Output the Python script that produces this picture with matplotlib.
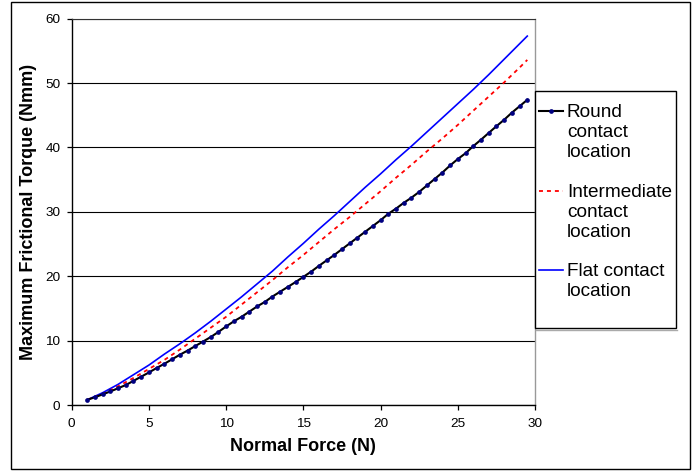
import matplotlib
matplotlib.use('Agg')
import matplotlib.pyplot as plt
from matplotlib.lines import Line2D
from matplotlib.patches import Rectangle

plt.rcParams['font.family'] = ['Liberation Sans', 'DejaVu Sans']

# ---------------- data ----------------
force_round = [1.0, 1.5, 2.0, 2.5, 3.0, 3.5, 4.0, 4.5, 5.0, 5.5,
               6.0, 6.5, 7.0, 7.5, 8.0, 8.5, 9.0, 9.5, 10.0, 10.5,
               11.0, 11.5, 12.0, 12.5, 13.0, 13.5, 14.0, 14.5, 15.0, 15.5,
               16.0, 16.5, 17.0, 17.5, 18.0, 18.5, 19.0, 19.5, 20.0, 20.5,
               21.0, 21.5, 22.0, 22.5, 23.0, 23.5, 24.0, 24.5, 25.0, 25.5,
               26.0, 26.5, 27.0, 27.5, 28.0, 28.5, 29.0, 29.5]
torque_round = [0.8, 1.2, 1.65, 2.1, 2.6, 3.1, 3.75, 4.4, 5.05, 5.75,
                6.4, 7.1, 7.8, 8.45, 9.15, 9.85, 10.55, 11.35, 12.2, 13.0,
                13.7, 14.5, 15.3, 16.0, 16.85, 17.6, 18.35, 19.1, 19.9, 20.7,
                21.6, 22.45, 23.3, 24.2, 25.1, 26.0, 26.9, 27.8, 28.7, 29.7,
                30.5, 31.4, 32.2, 33.1, 34.1, 35.1, 36.1, 37.2, 38.2, 39.1,
                40.2, 41.2, 42.25, 43.3, 44.3, 45.4, 46.4, 47.4]

force_other = [1, 2, 3, 4, 5, 6, 7, 8, 9, 10, 11, 12, 13, 14, 15,
               16, 17, 18, 19, 20, 21, 22, 23, 24, 25, 26, 27, 28, 29, 29.5]
torque_intermediate = [0.8, 1.7, 2.9, 4.2, 5.6, 7.0, 8.6, 10.3, 12.0, 13.7,
                       15.6, 17.5, 19.4, 21.4, 23.3, 25.3, 27.3, 29.2, 31.2, 33.2,
                       35.3, 37.3, 39.4, 41.4, 43.5, 45.7, 47.9, 50.1, 52.4, 53.6]
torque_flat = [0.8, 1.9, 3.2, 4.7, 6.2, 7.9, 9.5, 11.2, 13.0, 14.9,
               16.8, 18.8, 20.8, 23.0, 25.1, 27.3, 29.4, 31.6, 33.8, 35.9,
               38.1, 40.2, 42.4, 44.6, 46.8, 49.0, 51.3, 53.7, 56.1, 57.3]

legend_labels = [["Round", "contact", "location"],
                 ["Intermediate", "contact", "location"],
                 ["Flat contact", "location"]]

x_ticks = [0, 5, 10, 15, 20, 25, 30]
y_ticks = [0, 10, 20, 30, 40, 50, 60]
x_label = "Normal Force (N)"
y_label = "Maximum Frictional Torque (Nmm)"

# ---------------- figure ----------------
W, H = 697, 472
fig = plt.figure(figsize=(W / 100, H / 100), dpi=100)


def fx(x):
    return x / W


def fy(y):
    return 1 - y / H


# outer chart frame
fig.patches.append(Rectangle((fx(10.5), fy(469)), fx(690) - fx(10.5), fy(1.5) - fy(469),
                             transform=fig.transFigure, fill=False,
                             edgecolor='black', linewidth=1.0))

ax = fig.add_axes([fx(71.7), fy(405), (535 - 71.7) / W, (405 - 18.7) / H])

ax.plot(force_flat := force_other, torque_flat, color='#0000FF', lw=1.2, zorder=3)
ax.plot(force_other, torque_intermediate, color='#FF0000', lw=1.3,
        dashes=(2.2, 2.2), zorder=3)
ax.plot(force_round, torque_round, color='black', lw=1.5, marker='o',
        markersize=3.4, markerfacecolor='#000080', markeredgecolor='#000080',
        markeredgewidth=0, zorder=4)

ax.set_xlim(0, 30)
ax.set_ylim(0, 60)
ax.set_xticks(x_ticks)
ax.set_yticks(y_ticks)
ax.yaxis.grid(True, color='black', lw=0.8)
ax.set_axisbelow(True)

for s in ['left', 'bottom']:
    ax.spines[s].set_color('black')
    ax.spines[s].set_linewidth(1.0)
ax.spines['top'].set_color('#333333')
ax.spines['top'].set_linewidth(0.8)
ax.spines['right'].set_color('#999999')
ax.spines['right'].set_linewidth(1.0)

ax.tick_params(axis='both', direction='out', length=3.6, width=0.9,
               labelsize=9.7, colors='black')
ax.tick_params(axis='x', pad=5.5)
ax.tick_params(axis='y', pad=4.5)

ax.set_xlabel(x_label, fontsize=13, fontweight='bold', labelpad=6)
ax.set_ylabel(y_label, fontsize=13, fontweight='bold', labelpad=6)

# ---------------- legend (drawn manually to align handles with first line) ----------------
fig.patches.append(Rectangle((fx(535), fy(328)), fx(676) - fx(535), fy(91) - fy(328),
                             transform=fig.transFigure, facecolor='white',
                             edgecolor='black', linewidth=1.0, zorder=5))
fig.lines.append(Line2D([fx(536), fx(677)], [fy(329.5), fy(329.5)],
                        transform=fig.transFigure, color='#aaaaaa', lw=1.0, zorder=5))

baselines = [[117.3, 137.3, 157.3], [197.3, 217.3, 237.3], [276.5, 296.5]]
handle_styles = [dict(color='black', lw=1.5, marker='o', markersize=3.4,
                      markerfacecolor='#000080', markeredgecolor='#000080',
                      markeredgewidth=0),
                 dict(color='#FF0000', lw=1.3, dashes=(2.2, 2.2)),
                 dict(color='#0000FF', lw=1.2)]
for lines, bls, st in zip(legend_labels, baselines, handle_styles):
    yh = bls[0] - 6.5
    if 'marker' in st:
        fig.lines.append(Line2D([fx(539), fx(563)], [fy(yh), fy(yh)],
                                transform=fig.transFigure, zorder=6,
                                **{k: v for k, v in st.items() if not k.startswith('marker')}))
        fig.lines.append(Line2D([fx(551)], [fy(yh)], transform=fig.transFigure,
                                linestyle='none', zorder=7, marker='o',
                                markersize=3.4, markerfacecolor='#000080',
                                markeredgecolor='#000080', markeredgewidth=0))
    else:
        fig.lines.append(Line2D([fx(539), fx(563)], [fy(yh), fy(yh)],
                                transform=fig.transFigure, zorder=6, **st))
    for txt, b in zip(lines, bls):
        fig.text(fx(567), fy(b), txt, fontsize=13.7, ha='left', va='baseline',
                 zorder=7)

fig.savefig('out.png', dpi=100)
